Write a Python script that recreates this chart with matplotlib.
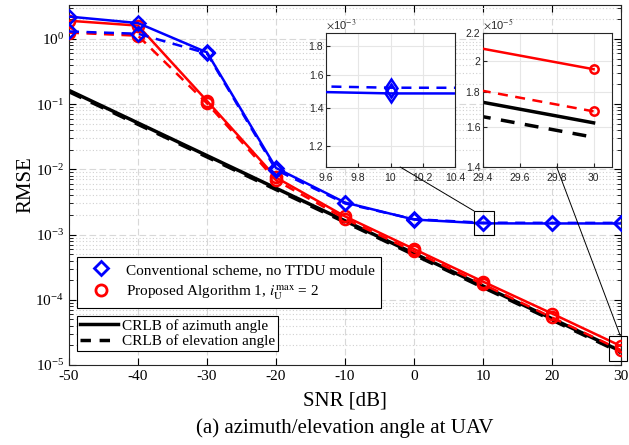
import numpy as np
import matplotlib
matplotlib.use('Agg')
import matplotlib.pyplot as plt
from matplotlib.lines import Line2D
from matplotlib.patches import Rectangle, ConnectionPatch
from matplotlib.ticker import FixedLocator, FuncFormatter, NullFormatter, LogLocator

plt.rcParams['font.family'] = ['Liberation Serif', 'DejaVu Serif']
plt.rcParams['mathtext.fontset'] = 'stix'
plt.rcParams['axes.unicode_minus'] = False

snr = [-50, -40, -30, -20, -10, 0, 10, 20, 30]
# conventional scheme (blue), azimuth solid / elevation dashed
conv_az = [2.2, 1.75, 0.62, 0.0105, 0.0031, 0.0017, 0.001485, 0.00148, 0.00148]
conv_el = [1.3, 1.2, 0.6, 0.0098, 0.0030, 0.00172, 0.00152, 0.00151, 0.00151]
# proposed algorithm (red)
prop_az = [1.9, 1.6, 0.112, 0.0075, 0.0019, 6.0e-4, 1.9e-4, 6.15e-5, 1.947e-5]
prop_el = [1.25, 1.12, 0.103, 0.0068, 0.00175, 5.5e-4, 1.73e-4, 5.35e-5, 1.689e-5]
# CRLB (black)
crlb_az = [0.1625, 0.0514, 0.01625, 5.14e-3, 1.625e-3, 5.14e-4, 1.625e-4, 5.14e-5, 1.625e-5]
crlb_el = [0.155, 0.049, 0.0155, 4.9e-3, 1.55e-3, 4.9e-4, 1.55e-4, 4.9e-5, 1.548e-5]

leg1_labels = ['Conventional scheme, no TTDU module',
               r'Proposed Algorithm 1, $i_{\mathrm{U}}^{\mathrm{max}}$ = 2']
leg2_labels = ['CRLB of azimuth angle', 'CRLB of elevation angle']

W, H = 629, 445
fig = plt.figure(figsize=(W / 100, H / 100), dpi=100)
ax = fig.add_axes([69 / W, 1 - 365 / H, 552 / W, 360 / H])

blue = '#0000ff'
red = '#ff0000'
lw = 1.8


def draw(a, dm, dsize, csize):
    mk = dict(markeredgewidth=1.8, markerfacecolor='none')
    a.plot(snr, crlb_az, color='k', lw=lw + 0.7, zorder=2)
    a.plot(snr, crlb_el, color='k', lw=lw + 0.7, ls=(0, (4, 3)), zorder=2)
    a.plot(snr, prop_el, color=red, lw=lw, ls=(0, (4, 3)), marker='o', markersize=csize, **mk, zorder=3)
    a.plot(snr, prop_az, color=red, lw=lw, marker='o', markersize=csize, **mk, zorder=3)
    a.plot(snr, conv_el, color=blue, lw=lw, ls=(0, (4, 3)), marker=dm, markersize=dsize, **mk, zorder=3)
    a.plot(snr, conv_az, color=blue, lw=lw, marker=dm, markersize=dsize, **mk, zorder=3)


draw(ax, 'D', 7, 8)
ax.set_yscale('log')
ax.set_xlim(-50, 30)
ax.set_ylim(1e-5, 10 ** 0.52)
ax.set_xticks(snr)
ax.yaxis.set_major_locator(FixedLocator([1e-5, 1e-4, 1e-3, 1e-2, 1e-1, 1]))
ax.yaxis.set_minor_locator(LogLocator(base=10, subs=np.arange(2, 10), numticks=20))
ax.yaxis.set_minor_formatter(NullFormatter())
ax.grid(True, which='major', axis='both', color='#d8d8d8', ls=(0, (6, 3)), lw=0.8)
ax.grid(True, which='minor', axis='y', color='#d0d0d0', ls=(0, (1, 2)), lw=0.8)
ax.set_axisbelow(True)
ax.tick_params(which='both', direction='in', top=True, right=True, labelsize=11)
ax.tick_params(which='major', length=5)
ax.tick_params(which='minor', length=3)
for s in ax.spines.values():
    s.set_linewidth(0.8)
    s.set_color('#262626')
ax.set_xlabel('SNR [dB]', fontsize=15, labelpad=6)
ax.set_ylabel('RMSE', fontsize=15, labelpad=0)
fig.text(345 / W, 1 - 428 / H, '(a) azimuth/elevation angle at UAV', fontsize=15,
         ha='center', va='center')

# legends
h1 = [Line2D([], [], ls='none', marker='D', color=blue, markersize=7, markeredgewidth=2, markerfacecolor='none'),
      Line2D([], [], ls='none', marker='o', color=red, markersize=8, markeredgewidth=2, markerfacecolor='none')]
lg1 = fig.legend(h1, leg1_labels, loc='upper left', bbox_to_anchor=(77 / W, 1 - 257 / H),
                 fontsize=11, fancybox=False, edgecolor='k', framealpha=1, borderaxespad=0,
                 handlelength=2.4, borderpad=0.4, labelspacing=0.4, handletextpad=0.4)
lg1.get_frame().set_linewidth(0.8)
h2 = [Line2D([], [], color='k', lw=2.5), Line2D([], [], color='k', lw=2.5, ls=(0, (3, 2.5)))]
lg2 = fig.legend(h2, leg2_labels, loc='upper left', bbox_to_anchor=(77 / W, 1 - 316 / H),
                 fontsize=11, fancybox=False, edgecolor='k', framealpha=1,
                 handlelength=2.5, borderpad=0.2, labelspacing=0.1, handletextpad=0.25,
                 borderaxespad=0)
lg2.get_frame().set_linewidth(0.8)

# zoom boxes on main axes
ax.add_patch(Rectangle((8.7, 9.9e-4), 2.9, 2.3e-3 - 9.9e-4, fill=False, ec='k', lw=0.8, zorder=5))
ax.add_patch(Rectangle((28.3, 1.15e-5), 2.6, 2.8e-5 - 1.15e-5, fill=False, ec='k', lw=0.8,
                       zorder=5, clip_on=False))


def inset(rect, xlim, ylim, xt, yt, expo):
    a = fig.add_axes(rect)
    draw(a, 'd', 9.5, 6)
    a.set_yscale('log')
    a.set_xlim(*xlim)
    a.set_ylim(*ylim)
    a.xaxis.set_major_locator(FixedLocator(xt))
    a.yaxis.set_major_locator(FixedLocator(yt))
    a.yaxis.set_minor_locator(FixedLocator([]))
    a.yaxis.set_major_formatter(FuncFormatter(lambda v, p: ('%g' % round(v / 10 ** expo, 3))))
    a.xaxis.set_major_formatter(FuncFormatter(lambda v, p: '%g' % round(v, 2)))
    a.grid(True, color='#e6e6e6', lw=0.8)
    a.set_axisbelow(True)
    a.tick_params(direction='in', length=3, labelsize=7.5, colors='#262626', pad=2)
    a.tick_params(axis='x', pad=4)
    for lab in a.get_xticklabels() + a.get_yticklabels():
        lab.set_family(['Liberation Sans', 'DejaVu Sans'])
    for s in a.spines.values():
        s.set_linewidth(0.8)
        s.set_color('#262626')
    a.text(0, 1.01, r'$\times$10$^{%d}$' % expo, transform=a.transAxes, fontsize=8,
           family=['Liberation Sans', 'DejaVu Sans'], color='#262626', va='bottom', ha='left')
    return a


in1 = inset([326 / W, 1 - 167 / H, 129 / W, 134 / H], (9.6, 10.4), (1.1e-3, 1.9e-3),
            [9.6, 9.8, 10, 10.2, 10.4], [1.2e-3, 1.4e-3, 1.6e-3, 1.8e-3], -3)
in2 = inset([483 / W, 1 - 167 / H, 129 / W, 134 / H], (29.4, 30.1), (1.4e-5, 2.2e-5),
            [29.4, 29.6, 29.8, 30], [1.4e-5, 1.6e-5, 1.8e-5, 2.0e-5, 2.2e-5], -5)

c1 = ConnectionPatch(xyA=(10.06, 1.1e-3), coordsA=in1.transData,
                     xyB=(8.7, 2.3e-3), coordsB=ax.transData, color='k', lw=0.7)
fig.add_artist(c1)
c2 = ConnectionPatch(xyA=(29.8, 1.4e-5), coordsA=in2.transData,
                     xyB=(29.9, 2.8e-5), coordsB=ax.transData, color='k', lw=0.7)
fig.add_artist(c2)

fig.savefig('out.png', dpi=100)
